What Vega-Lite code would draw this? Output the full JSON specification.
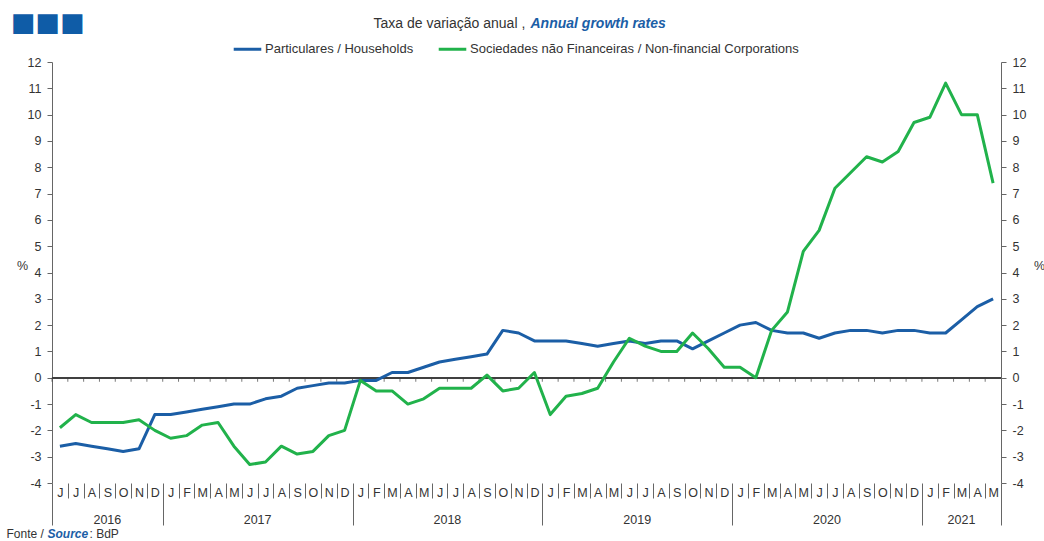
{
  "$schema": "https://vega.github.io/schema/vega-lite/v6.json",
  "width": 949,
  "height": 421,
  "autosize": {"type": "none"},
  "padding": {"left": 52, "top": 62, "right": 43, "bottom": 58},
  "background": "white",
  "config": {"view": {"stroke": null}, "font": "Liberation Sans", "axis": {"grid": false}},
  "title": {"text": "■■■", "orient": "top", "anchor": "start", "frame": "group", "dx": -41, "offset": -20, "font": "DejaVu Sans", "fontSize": 26, "fontWeight": "normal", "color": "#0f5ca7"},
  "data": {"values": [
    {"month": "2016-06", "hh": -2.6, "nfc": -1.9},
    {"month": "2016-07", "hh": -2.5, "nfc": -1.4},
    {"month": "2016-08", "hh": -2.6, "nfc": -1.7},
    {"month": "2016-09", "hh": -2.7, "nfc": -1.7},
    {"month": "2016-10", "hh": -2.8, "nfc": -1.7},
    {"month": "2016-11", "hh": -2.7, "nfc": -1.6},
    {"month": "2016-12", "hh": -1.4, "nfc": -2.0},
    {"month": "2017-01", "hh": -1.4, "nfc": -2.3},
    {"month": "2017-02", "hh": -1.3, "nfc": -2.2},
    {"month": "2017-03", "hh": -1.2, "nfc": -1.8},
    {"month": "2017-04", "hh": -1.1, "nfc": -1.7},
    {"month": "2017-05", "hh": -1.0, "nfc": -2.6},
    {"month": "2017-06", "hh": -1.0, "nfc": -3.3},
    {"month": "2017-07", "hh": -0.8, "nfc": -3.2},
    {"month": "2017-08", "hh": -0.7, "nfc": -2.6},
    {"month": "2017-09", "hh": -0.4, "nfc": -2.9},
    {"month": "2017-10", "hh": -0.3, "nfc": -2.8},
    {"month": "2017-11", "hh": -0.2, "nfc": -2.2},
    {"month": "2017-12", "hh": -0.2, "nfc": -2.0},
    {"month": "2018-01", "hh": -0.1, "nfc": -0.1},
    {"month": "2018-02", "hh": -0.1, "nfc": -0.5},
    {"month": "2018-03", "hh": 0.2, "nfc": -0.5},
    {"month": "2018-04", "hh": 0.2, "nfc": -1.0},
    {"month": "2018-05", "hh": 0.4, "nfc": -0.8},
    {"month": "2018-06", "hh": 0.6, "nfc": -0.4},
    {"month": "2018-07", "hh": 0.7, "nfc": -0.4},
    {"month": "2018-08", "hh": 0.8, "nfc": -0.4},
    {"month": "2018-09", "hh": 0.9, "nfc": 0.1},
    {"month": "2018-10", "hh": 1.8, "nfc": -0.5},
    {"month": "2018-11", "hh": 1.7, "nfc": -0.4},
    {"month": "2018-12", "hh": 1.4, "nfc": 0.2},
    {"month": "2019-01", "hh": 1.4, "nfc": -1.4},
    {"month": "2019-02", "hh": 1.4, "nfc": -0.7},
    {"month": "2019-03", "hh": 1.3, "nfc": -0.6},
    {"month": "2019-04", "hh": 1.2, "nfc": -0.4},
    {"month": "2019-05", "hh": 1.3, "nfc": 0.6},
    {"month": "2019-06", "hh": 1.4, "nfc": 1.5},
    {"month": "2019-07", "hh": 1.3, "nfc": 1.2},
    {"month": "2019-08", "hh": 1.4, "nfc": 1.0},
    {"month": "2019-09", "hh": 1.4, "nfc": 1.0},
    {"month": "2019-10", "hh": 1.1, "nfc": 1.7},
    {"month": "2019-11", "hh": 1.4, "nfc": 1.1},
    {"month": "2019-12", "hh": 1.7, "nfc": 0.4},
    {"month": "2020-01", "hh": 2.0, "nfc": 0.4},
    {"month": "2020-02", "hh": 2.1, "nfc": 0.0},
    {"month": "2020-03", "hh": 1.8, "nfc": 1.8},
    {"month": "2020-04", "hh": 1.7, "nfc": 2.5},
    {"month": "2020-05", "hh": 1.7, "nfc": 4.8},
    {"month": "2020-06", "hh": 1.5, "nfc": 5.6},
    {"month": "2020-07", "hh": 1.7, "nfc": 7.2},
    {"month": "2020-08", "hh": 1.8, "nfc": 7.8},
    {"month": "2020-09", "hh": 1.8, "nfc": 8.4},
    {"month": "2020-10", "hh": 1.7, "nfc": 8.2},
    {"month": "2020-11", "hh": 1.8, "nfc": 8.6},
    {"month": "2020-12", "hh": 1.8, "nfc": 9.7},
    {"month": "2021-01", "hh": 1.7, "nfc": 9.9},
    {"month": "2021-02", "hh": 1.7, "nfc": 11.2},
    {"month": "2021-03", "hh": 2.2, "nfc": 10.0},
    {"month": "2021-04", "hh": 2.7, "nfc": 10.0},
    {"month": "2021-05", "hh": 3.0, "nfc": 7.4}
  ]},
  "layer": [
    {
      "mark": {"type": "rule", "color": "#404040", "strokeWidth": 1},
      "encoding": {
        "y": {"datum": 0, "type": "quantitative", "scale": {"domain": [-4, 12], "nice": false, "zero": false},
          "axis": {"orient": "left", "labels": false, "ticks": false, "domain": false, "grid": false,
            "title": "Annual growth rates", "titleX": 478, "titleY": -35, "titleAngle": 0, "titleAlign": "left", "titleBaseline": "alphabetic",
            "titleFontSize": 14, "titleFontWeight": "bold", "titleFontStyle": "italic", "titleColor": "#1b5ea6", "titleFont": "Liberation Sans"}}
      }
    },
    {
      "mark": {"type": "tick", "orient": "vertical", "color": "#404040", "size": 4, "thickness": 1, "yOffset": 2},
      "encoding": {
        "x": {"field": "month", "type": "ordinal", "bandPosition": 0,
          "scale": {"type": "band", "paddingInner": 0, "paddingOuter": 0},
          "axis": {"orient": "bottom", "labels": false, "ticks": false, "domain": false,
            "title": ": BdP", "titleX": 37, "titleY": 54, "titleAlign": "left", "titleBaseline": "alphabetic",
            "titleFontSize": 12, "titleFontWeight": "normal", "titleColor": "#333333"}},
        "y": {"datum": 0, "type": "quantitative",
          "axis": {"orient": "left", "labels": false, "ticks": false, "domain": false, "grid": false,
            "title": "Taxa de variação anual ,", "titleX": 321, "titleY": -35, "titleAngle": 0, "titleAlign": "left", "titleBaseline": "alphabetic",
            "titleFontSize": 14, "titleFontWeight": "normal", "titleColor": "#333333"}}
      }
    },
    {
      "transform": [{"fold": ["hh", "nfc"], "as": ["key", "value"]}, {"filter": "datum.key == 'hh'"}],
      "mark": {"type": "line", "strokeWidth": 3, "strokeJoin": "round"},
      "encoding": {
        "x": {"field": "month", "type": "ordinal",
          "scale": {"type": "band", "paddingInner": 0, "paddingOuter": 0},
          "axis": {"orient": "bottom", "domain": false, "tickBand": "extent", "tickColor": "#666666",
            "tickSize": {"condition": {"test": "!datum.value || slice(datum.value,5,7)=='12' || datum.value=='2021-05'", "value": 42}, "value": 15},
            "labelPadding": {"condition": {"test": "datum.value && (slice(datum.value,5,7)=='12' || datum.value=='2021-05')", "value": -39}, "value": -12},
            "labelExpr": "datum.value ? ['J','F','M','A','M','J','J','A','S','O','N','D'][toNumber(slice(datum.value,5,7))-1] : ''",
            "labelAngle": 0, "labelFontSize": 12.5, "labelColor": "#333333", "labelBaseline": "top", "labelOverlap": false,
            "title": "Fonte /", "titleX": -46, "titleY": 54, "titleAlign": "left", "titleBaseline": "alphabetic",
            "titleFontSize": 12, "titleFontWeight": "normal", "titleColor": "#333333"}},
        "y": {"field": "value", "type": "quantitative", "scale": {"domain": [-4, 12], "nice": false, "zero": false},
          "axis": {"orient": "left", "values": [-4,-3,-2,-1,0,1,2,3,4,5,6,7,8,9,10,11,12], "grid": false,
            "labelExpr": "'' + datum.value",
            "domainColor": "#666666", "tickColor": "#666666", "tickSize": 5, "labelPadding": 6,
            "labelFontSize": 12.5, "labelColor": "#333333",
            "title": "%", "titleX": -30, "titleY": 203, "titleAngle": 0, "titleAlign": "center", "titleBaseline": "middle",
            "titleFontSize": 12.5, "titleFontWeight": "normal", "titleColor": "#333333"}},
        "color": {"field": "key", "type": "nominal",
          "scale": {"domain": ["hh", "nfc"], "range": ["#1b5ea6", "#21b24b"]},
          "legend": {"orient": "none", "legendX": 180, "legendY": -28.5, "direction": "horizontal", "title": null, "padding": 0,
            "symbolType": "stroke", "symbolStrokeWidth": 3, "symbolSize": 760, "labelFontSize": 13, "labelColor": "#333333",
            "labelOffset": 2, "columnPadding": 18, "labelLimit": 500,
            "labelExpr": "datum.value == 'hh' ? 'Particulares / Households' : 'Sociedades não Financeiras / Non-financial Corporations'"}}
      }
    },
    {
      "transform": [{"fold": ["hh", "nfc"], "as": ["key", "value"]}, {"filter": "datum.key == 'nfc'"}],
      "mark": {"type": "line", "strokeWidth": 3, "strokeJoin": "round"},
      "encoding": {
        "x": {"field": "month", "type": "ordinal",
          "scale": {"type": "band", "paddingInner": 0, "paddingOuter": 0},
          "axis": {"orient": "bottom", "values": ["2016-09", "2017-06", "2018-06", "2019-06", "2020-06", "2021-03"],
            "ticks": false, "domain": false,
            "labelExpr": "datum.value ? slice(datum.value,0,4) : ''",
            "labelOffset": {"condition": {"test": "datum.value=='2016-09' || datum.value=='2021-03'", "value": 0}, "value": 7.908},
            "labelPadding": 30, "labelAngle": 0, "labelFontSize": 12.5, "labelColor": "#333333", "labelBaseline": "top", "labelOverlap": false,
            "title": "Source", "titleX": -5, "titleY": 54, "titleAlign": "left", "titleBaseline": "alphabetic",
            "titleFontSize": 12, "titleFontWeight": "bold", "titleFontStyle": "italic", "titleColor": "#1b5ea6"}},
        "y": {"field": "value", "type": "quantitative", "scale": {"domain": [-4, 12], "nice": false, "zero": false},
          "axis": {"orient": "right", "values": [-4,-3,-2,-1,0,1,2,3,4,5,6,7,8,9,10,11,12], "grid": false,
            "labelExpr": "'' + datum.value",
            "domainColor": "#666666", "tickColor": "#666666", "tickSize": 5, "labelPadding": 6,
            "labelFontSize": 12.5, "labelColor": "#333333",
            "title": "%", "titleX": 38, "titleY": 203, "titleAngle": 0, "titleAlign": "center", "titleBaseline": "middle",
            "titleFontSize": 12.5, "titleFontWeight": "normal", "titleColor": "#333333"}},
        "color": {"field": "key", "type": "nominal",
          "scale": {"domain": ["hh", "nfc"], "range": ["#1b5ea6", "#21b24b"]},
          "legend": {"orient": "none", "legendX": 180, "legendY": -28.5, "direction": "horizontal", "title": null, "padding": 0,
            "symbolType": "stroke", "symbolStrokeWidth": 3, "symbolSize": 760, "labelFontSize": 13, "labelColor": "#333333",
            "labelOffset": 2, "columnPadding": 18, "labelLimit": 500,
            "labelExpr": "datum.value == 'hh' ? 'Particulares / Households' : 'Sociedades não Financeiras / Non-financial Corporations'"}}
      }
    }
  ],
  "resolve": {"axis": {"x": "independent", "y": "independent"}}
}
